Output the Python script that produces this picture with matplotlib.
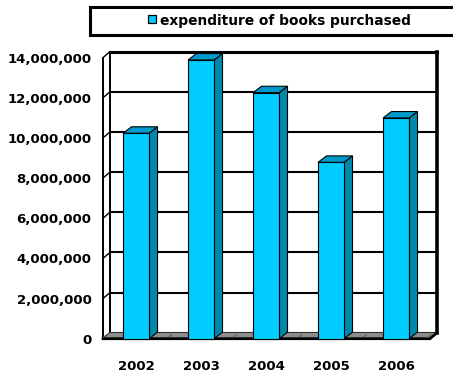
import matplotlib
matplotlib.use("Agg")
import matplotlib.pyplot as plt
from matplotlib.patches import Polygon, Rectangle
from matplotlib.ticker import FuncFormatter

# expenditure on purchased books per year
years = ['2002', '2003', '2004', '2005', '2006']
expenditure = [10230000, 13880000, 12250000, 8780000, 10990000]
yticks = [0, 2000000, 4000000, 6000000, 8000000, 10000000, 12000000, 14000000]

FRONT = '#00CCFF'
SIDE = '#0088AA'
TOP = '#0099CC'
FLOOR = '#8C8C8C'

W, H = 453, 374
fig = plt.figure(figsize=(W / 100, H / 100), dpi=100)

# front plane of the plot, in pixels
left_px, right_px = 103, 430
bot_px, top_px = 338.7, 57.6
ax = fig.add_axes([left_px / W, (H - bot_px) / H,
                   (right_px - left_px) / W, (bot_px - top_px) / H])
xmin, xmax = -0.508, 4.523
ymax = 14000000
ax.set_xlim(xmin, xmax)
ax.set_ylim(0, ymax)
for s in ax.spines.values():
    s.set_visible(False)
ax.patch.set_visible(False)

# depth offsets (data units)
px_x = (xmax - xmin) / (right_px - left_px)
px_y = ymax / (bot_px - top_px)
ddx, ddy = 7 * px_x, 6 * px_y      # walls / floor
bdx, bdy = 8.5 * px_x, 6.5 * px_y  # bars

# back wall gridlines
for v in yticks:
    lw = 2.2 if v == ymax else 1.5
    ax.plot([xmin + ddx, xmax + ddx], [v + ddy, v + ddy], color='black',
            lw=lw, clip_on=False, zorder=1)
    # left side wall
    ax.plot([xmin, xmin + ddx], [v, v + ddy], color='black', lw=1.0,
            clip_on=False, zorder=1)
ax.plot([xmin, xmin], [0, ymax], color='black', lw=1.4, clip_on=False, zorder=1)
ax.plot([xmin + ddx, xmin + ddx], [ddy, ymax + ddy], color='black', lw=1.4,
        clip_on=False, zorder=1)
ax.plot([xmax + ddx, xmax + ddx], [ddy, ymax + ddy], color='black', lw=2.6,
        clip_on=False, zorder=1)

# floor
floor = Polygon([(xmin, 0), (xmax, 0), (xmax + ddx, ddy), (xmin + ddx, ddy)],
                closed=True, facecolor=FLOOR, edgecolor='none',
                clip_on=False, zorder=2)
ax.add_patch(floor)
ax.plot([xmin, xmax, xmax + ddx], [0, 0, ddy], color='black', lw=2.0,
        clip_on=False, zorder=2, solid_joinstyle='miter')
for i in range(len(years) + 1):
    bx = i - 0.5
    ax.plot([bx, bx + ddx * 0.4], [ddy * 0.25, ddy * 0.65], color='#555555',
            lw=0.7, clip_on=False, zorder=2)

# bars with side and top faces
bw = 0.4
xs = list(range(len(years)))
ax.bar(xs, expenditure, width=bw, color=FRONT, edgecolor='black',
       linewidth=0.8, zorder=4, clip_on=False)
for x, v in zip(xs, expenditure):
    r = x + bw / 2
    l = x - bw / 2
    side = Polygon([(r, 0), (r + bdx, bdy), (r + bdx, v + bdy), (r, v)],
                   closed=True, facecolor=SIDE, edgecolor='black', lw=0.8,
                   zorder=3, clip_on=False)
    top = Polygon([(l, v), (r, v), (r + bdx, v + bdy), (l + bdx, v + bdy)],
                  closed=True, facecolor=TOP, edgecolor='black', lw=0.8,
                  zorder=3, clip_on=False)
    ax.add_patch(side)
    ax.add_patch(top)

# tick labels
ax.set_yticks(yticks)
ax.yaxis.set_major_formatter(FuncFormatter(lambda v, p: f'{int(v):,}'))
ax.set_xticks(xs)
ax.set_xticklabels(years)
ax.tick_params(axis='both', length=0)
ax.tick_params(axis='y', pad=8.3)
ax.tick_params(axis='x', pad=15.5)
for lab in ax.get_yticklabels() + ax.get_xticklabels():
    lab.set_fontfamily('DejaVu Sans')
    lab.set_fontweight('bold')
    lab.set_fontsize(9.5)

# legend box
fig.patches.append(Rectangle((90 / W, (H - 35) / H), 400 / W, 28 / H,
                             transform=fig.transFigure, facecolor='white',
                             edgecolor='black', lw=2.2))
fig.patches.append(Rectangle((148 / W, (H - 23) / H), 8 / W, 8 / H,
                             transform=fig.transFigure, facecolor=FRONT,
                             edgecolor='black', lw=0.9))
fig.text(160 / W, (H - 21) / H, 'expenditure of books purchased',
         fontfamily='DejaVu Sans', fontweight='bold', fontsize=9.9,
         va='center', ha='left')

fig.savefig('out.png', dpi=100, facecolor='white')
